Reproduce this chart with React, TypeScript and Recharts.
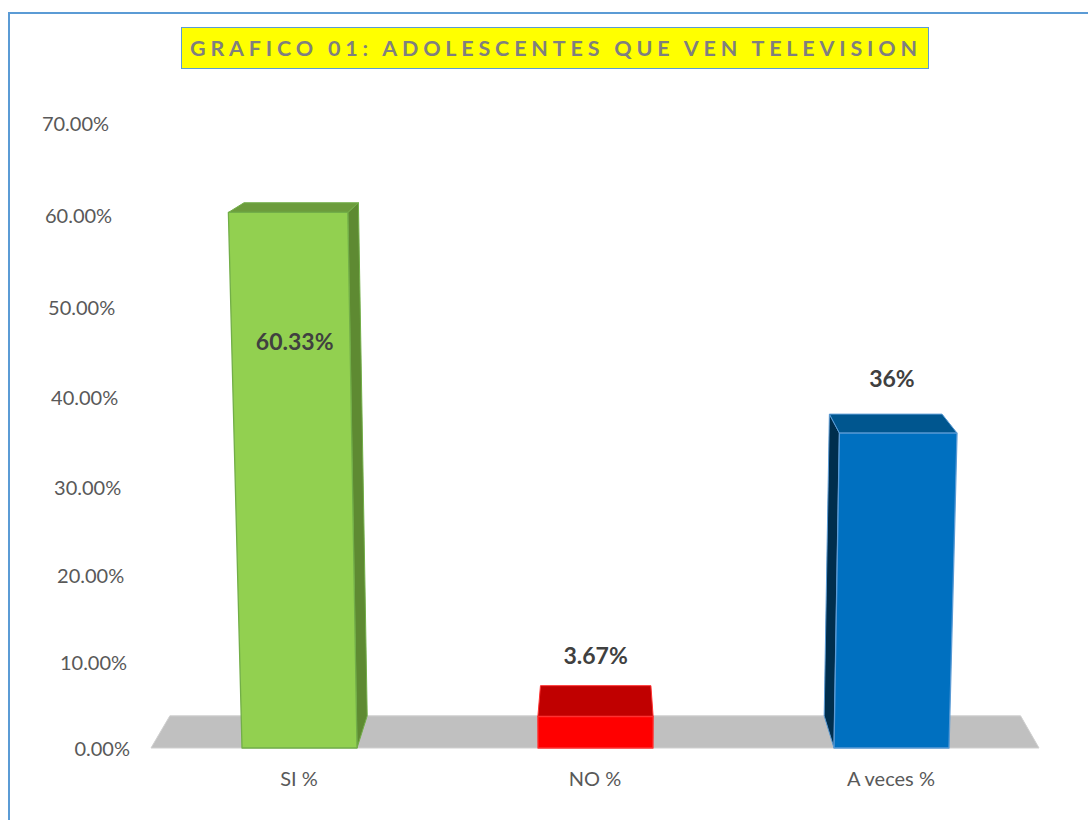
import React from "react";
import { BarChart, Bar, XAxis, YAxis, ReferenceArea, LabelList } from "recharts";

// ---------- data ----------
const categories = ["SI %", "NO %", "A veces %"];
const values = [60.33, 3.67, 36];
const valueLabels = ["60.33%", "3.67%", "36%"];
const yTicks = [0, 10, 20, 30, 40, 50, 60, 70];
const chartTitle = "GRAFICO 01: ADOLESCENTES QUE VEN TELEVISION";

// ---------- styles ----------
const frontColors = ["#92D050", "#FF0000", "#0070C0"];
const topColors = ["#6C9C3C", "#C00000", "#00568F"];
const sideColors = ["#5E8A32", "#A00000", "#002E4D"];
const edgeColors = ["#72AE48", "#FF3030", "#5B9BD5"];

const data = categories.map((c, i) => ({ name: c, value: values[i], label: valueLabels[i] }));

// ---------- perspective constants ----------
const W = 1088;
const H = 820;
const PLOT_TOP = 123;
const PLOT_BOTTOM = 748;
const PLOT_LEFT = 151;
const PLOT_RIGHT = 1039;
const CX = 595; // horizontal convergence centre of front faces
const K = 7.2e-5; // front-face widening per px upward
const BOW = 6.5; // slight vertical bend of the value axis
const VX = 600; // depth vanishing point
const VY = -18;
const DEPTH = 0.042;
const FONT = "Lato, 'Open Sans', sans-serif";

const bend = (fy: number) => {
  const half = (PLOT_BOTTOM - PLOT_TOP) / 2;
  return fy + (BOW * (PLOT_BOTTOM - fy) * (fy - PLOT_TOP)) / (half * half);
};

const P = (fx: number, fy: number, back: boolean): [number, number] => {
  let sy = bend(fy);
  let sx = CX + (fx - CX) * (1 + K * (PLOT_BOTTOM - sy));
  if (back) {
    sx = sx + DEPTH * (VX - sx);
    sy = sy + DEPTH * (VY - sy);
  }
  return [sx, sy];
};

const pts = (arr: [number, number][]) => arr.map((p) => `${p[0].toFixed(2)},${p[1].toFixed(2)}`).join(" ");

const Bar3D = (props: any) => {
  const { x, y, width, height, index } = props;
  if (width == null || height == null) return null;
  const i = index ?? 0;
  const FTL = P(x, y, false);
  const FTR = P(x + width, y, false);
  const FBL = P(x, y + height, false);
  const FBR = P(x + width, y + height, false);
  const BTL = P(x, y, true);
  const BTR = P(x + width, y, true);
  const BBL = P(x, y + height, true);
  const BBR = P(x + width, y + height, true);
  const edge = edgeColors[i];
  let side: [number, number][] | null = null;
  if (BTR[0] > FTR[0]) side = [FTR, BTR, BBR, FBR];
  else if (BTL[0] < FTL[0]) side = [FTL, BTL, BBL, FBL];
  return (
    <g>
      {side && (
        <polygon points={pts(side)} fill={sideColors[i]} stroke={edge} strokeWidth={1} strokeLinejoin="round" />
      )}
      <polygon points={pts([FTL, FTR, BTR, BTL])} fill={topColors[i]} stroke={edge} strokeWidth={1} strokeLinejoin="round" />
      <polygon points={pts([FTL, FTR, FBR, FBL])} fill={frontColors[i]} stroke={edge} strokeWidth={1.3} strokeLinejoin="round" />
    </g>
  );
};

const Floor = (props: any) => {
  const { x, y, width, height } = props;
  if (x == null) return null;
  const bottom = y + height;
  const a = P(x, bottom, false);
  const b = P(x + width, bottom, false);
  const c = P(x + width, bottom, true);
  const d = P(x, bottom, true);
  return <polygon points={pts([a, b, c, d])} fill="#C0C0C0" stroke="#D0D0D0" strokeWidth={1} />;
};

const YTick = (props: any) => {
  const { x, y, payload } = props;
  const sy = bend(y);
  const sx = CX + (x - CX) * (1 + K * (PLOT_BOTTOM - sy));
  return (
    <text x={sx} y={sy} textAnchor="end" dominantBaseline="central" fill="#595959" fontSize={20} fontFamily={FONT}>
      {`${Number(payload.value).toFixed(2)}%`}
    </text>
  );
};

const XTick = (props: any) => {
  const { x, y, payload } = props;
  return (
    <text x={x} y={y + 30} textAnchor="middle" dominantBaseline="central" fill="#595959" fontSize={20} fontFamily={FONT}>
      {payload.value}
    </text>
  );
};

const ValueLabel = (props: any) => {
  const vb = props.viewBox && props.viewBox.width != null ? props.viewBox : props;
  const { x, y, width } = vb;
  const i = props.index ?? 0;
  if (x == null) return null;
  const f = P(x + width / 2, y, false);
  const b = P(x + width / 2, y, true);
  const cx = (f[0] + b[0]) / 2;
  const cy = (f[1] + b[1]) / 2;
  const inside = values[i] >= 50;
  const ly = inside ? cy + 133 : cy - 46;
  return (
    <text x={cx} y={ly} textAnchor="middle" dominantBaseline="central" fill="#404040" fontSize={23} fontWeight={700} fontFamily={FONT}>
      {props.value}
    </text>
  );
};

export default function App() {
  return (
    <div style={{ position: "absolute", left: 0, top: 0, width: W, height: H, overflow: "hidden", background: "#fff" }}>
      <div
        style={{
          position: "absolute",
          left: 8,
          top: 12,
          width: W + 20,
          height: H + 20,
          borderLeft: "2px solid #5B9BD5",
          borderTop: "2px solid #5B9BD5",
          boxSizing: "border-box",
        }}
      />
      <div style={{ position: "absolute", left: 0, top: 0 }}>
        <BarChart
          width={W}
          height={H}
          data={data}
          margin={{ top: PLOT_TOP, right: W - PLOT_RIGHT, bottom: H - PLOT_BOTTOM - 40, left: PLOT_LEFT - 60 }}
          barSize={115}
        >
          <ReferenceArea y1={0} y2={1} ifOverflow="visible" shape={Floor} />
          <XAxis dataKey="name" height={40} axisLine={false} tickLine={false} tickSize={0} tickMargin={0} tick={XTick} interval={0} />
          <YAxis
            type="number"
            domain={[0, 70]}
            ticks={yTicks}
            width={60}
            axisLine={false}
            tickLine={false}
            tickSize={0}
            tickMargin={21}
            tick={YTick}
            interval={0}
          />
          <Bar dataKey="value" isAnimationActive={false} shape={Bar3D}>
            <LabelList dataKey="label" content={ValueLabel} />
          </Bar>
        </BarChart>
      </div>
      <div
        style={{
          position: "absolute",
          left: 181,
          top: 27,
          width: 748,
          height: 42,
          background: "#FFFF00",
          border: "1.5px solid #5B9BD5",
          boxSizing: "border-box",
        }}
      >
        <svg width={745} height={39} style={{ display: "block" }}>
          <text
            x={8}
            y={20}
            dominantBaseline="central"
            fill="#7F7F7F"
            fontSize={21.5}
            fontWeight={700}
            fontFamily={FONT}
            textLength={727}
            lengthAdjust="spacing"
          >
            {chartTitle}
          </text>
        </svg>
      </div>
    </div>
  );
}
